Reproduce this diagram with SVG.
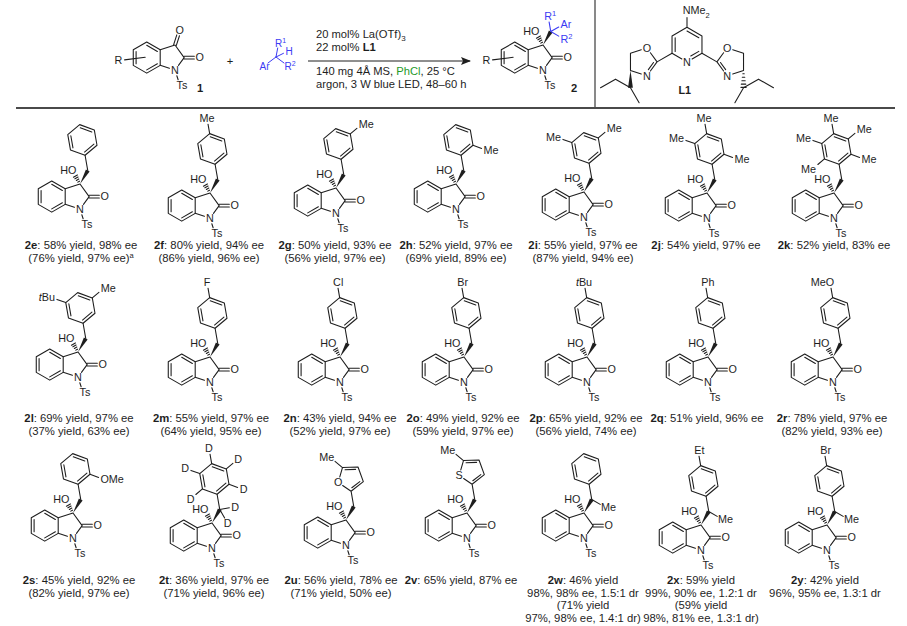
<svg xmlns="http://www.w3.org/2000/svg" width="907" height="626" viewBox="0 0 907 626">
<style>
.b{fill:none;stroke:#1e1e1e;stroke-width:1;stroke-linecap:round;stroke-linejoin:round}
.bs{stroke:#3b3bf4}
.t{font-family:"Liberation Sans",Arial,sans-serif;font-size:10px;fill:#1e1e1e}
.m{text-anchor:middle}
.e{text-anchor:end}
.bl{fill:#3b3bf4}
.cap{font-family:"Liberation Sans",Arial,sans-serif;font-size:11.3px;fill:#1e1e1e;text-anchor:middle}
.cond{font-family:"Liberation Sans",Arial,sans-serif;font-size:11.2px;fill:#1e1e1e}
.k{font-weight:bold}
.sep{stroke:#4a4a4a;fill:none}
</style>
<defs>
<g id="ring"><path class="b" d="M0,-14.4L12.47,-7.2L12.47,7.2L0,14.4L-12.47,7.2L-12.47,-7.2Z M0,-11.38L9.85,-5.69 M9.85,5.69L0,11.38 M-9.85,5.69L-9.85,-5.69"/></g>
<g id="base">
<use href="#ring" transform="translate(-26.17,11.65)"/>
<path class="b" d="M-13.7,4.45L0,0L8.47,11.65L3.23,18.85M-13.7,18.85L-5.23,21.6M1.7,28.5L2.9,32.2M8.6,10.35H17.9M8.6,12.95H17.9"/>
<text class="t m" x="0" y="26.9">N</text>
<text class="t m" x="22.87" y="15.25">O</text>
<text class="t" x="1.4" y="40.6">Ts</text>
</g>
<g id="core">
<use href="#base"/>
<path class="b" d="M-0.47,-2.62L-2.03,-1.72M-1.12,-4.55L-3.38,-3.25M-1.78,-6.48L-4.72,-4.78M-2.43,-8.41L-6.07,-6.31"/>
<polygon points="0,0 5.47,-13.47 8.93,-11.47" fill="#1e1e1e"/>
<text class="t e" x="-3.3" y="-8.87">HO</text>
</g>
<g id="bz"><path class="b" d="M7.2,-12.47L4.7,-26.62"/><use href="#ring" transform="translate(2.2,-40.8) rotate(-10)"/></g>
<g id="het"><path class="b" d="M7.2,-12.47L4.7,-26.65L16.05,-35.51L11.12,-49.05L-3.27,-48.54L-5.75,-39.89M-3.1,-31.9L4.7,-26.65M5.4,-29.85L12.8,-35.6M8.9,-46.9L-0.9,-46.55M-3.27,-48.54L-10.16,-54.33"/><text class="t e" x="-10.8" y="-54.2">Me</text></g>
<path id="pb" class="b" d="M-0.3,-54.98L-1.84,-63.7"/>
<path id="mr" class="b" d="M13.23,-50.06L19.36,-55.2"/>
<path id="orr" class="b" d="M15.73,-35.87L23.72,-32.96"/>
<path id="ml" class="b" d="M-11.33,-45.73L-19.5,-48.7"/>
<path id="ol" class="b" d="M-8.83,-31.54L-14.96,-26.4"/>
<g id="chme"><path class="b" d="M7.2,-12.47L14.99,-7.97"/><text class="t" x="15.8" y="-1.67">Me</text></g>
<marker id="ah" viewBox="0 0 10 8" refX="9" refY="4" markerWidth="10" markerHeight="8" markerUnits="userSpaceOnUse" orient="auto"><path d="M0,0L10,4L0,8L2,4Z" fill="#1e1e1e"/></marker>
</defs>
<rect width="907" height="626" fill="#fff"/>

<!-- frame lines -->
<path class="sep" stroke-width="1.3" d="M595,0V108"/>
<path class="sep" stroke-width="2" d="M16,108H895"/>

<!-- isatin 1 -->
<g id="n1" transform="translate(175,45) scale(1.08)">
<use href="#base"/>
<path class="b" d="M1.24,0.4L4.14,-8.54M-1.24,-0.4L1.66,-9.34M-46.7,13.8L-27.6,11.4"/>
<text class="t m" x="4.45" y="-10.1">O</text>
<text class="t m" x="-52.4" y="17.9">R</text>
</g>
<text id="lab1" class="cond k" x="197" y="92">1</text>
<text id="plus" class="cond m" x="230" y="65" font-size="12">+</text>

<!-- reagent -->
<g id="reagent">
<path class="b bs" d="M276,57L277.7,48M276,57L283.5,53.3M276,57L268,63M276,57L284,63"/>
<text class="t bl" x="275" y="46.5">R<tspan dy="-4" font-size="7">1</tspan></text>
<text class="t bl m" x="289" y="55">H</text>
<text class="t bl e" x="269.5" y="70">Ar</text>
<text class="t bl" x="284.5" y="70">R<tspan dy="-4" font-size="7">2</tspan></text>
</g>

<!-- connectors -->
<g id="connectors">
<line x1="308" y1="61" x2="470" y2="61" stroke="#1e1e1e" stroke-width="1" marker-end="url(#ah)"/>
</g>
<g id="conditions">
<text class="cond" x="316" y="38">20 mol% La(OTf)<tspan dy="3" font-size="8">3</tspan></text>
<text class="cond" x="316" y="51">22 mol% <tspan class="k">L1</tspan></text>
<text class="cond" x="316" y="75">140 mg 4Å MS, <tspan fill="#1f9a2a">PhCl</tspan>, 25 °C</text>
<text class="cond" x="316" y="88">argon, 3 W blue LED, 48–60 h</text>
</g>

<!-- product 2 -->
<g id="n2" transform="translate(543,45) scale(1.08)">
<use href="#core"/>
<path class="b" d="M-46.7,13.8L-27.6,11.4"/>
<text class="t m" x="-52.4" y="17.9">R</text>
<path class="b bs" d="M7.2,-12.47L5.64,-21.33M7.2,-12.47L14.56,-16.72M7.2,-12.47L14.56,-8.22"/>
<text class="t bl" x="1.1" y="-23.05">R<tspan dy="-4" font-size="7">1</tspan></text>
<text class="t bl" x="16.3" y="-16.07">Ar</text>
<text class="t bl" x="16.1" y="-1.67">R<tspan dy="-4" font-size="7">2</tspan></text>
</g>
<text id="lab2" class="cond k" x="571" y="92">2</text>

<!-- ligand L1 -->
<g id="L1" transform="translate(687,50) scale(1.08) translate(-687,-50)">
<path class="b" d="M682.24,58.25L673.14,53L673.14,37L687,29L700.86,37L700.86,53L691.76,58.25M676.05,38.7V51.3M687,32.4L697.95,38.7M697.95,51.3L690.5,55.6M687,29V20"/>
<text class="t" x="683" y="17">NMe<tspan dy="3" font-size="7">2</tspan></text>
<text class="t m" x="687" y="64.6">N</text>
<path class="b" d="M673.14,53L659.28,61L653.11,52.51M644.65,49.76L634.66,53L634.66,69L644.65,72.24M653.11,69.49L659.28,61M656,61.6L651.2,68.2"/>
<text class="t m" x="649.88" y="51.7">O</text>
<text class="t m" x="649.88" y="77.5">N</text>
<path class="b" d="M700.86,53L714.72,61L720.89,52.51M729.35,49.76L739.34,53L739.34,69L729.35,72.24M720.89,69.49L714.72,61M718,61.6L722.8,68.2"/>
<text class="t m" x="724.12" y="51.7">O</text>
<text class="t m" x="724.12" y="77.5">N</text>
<polygon points="634.66,69 632.4,85 636.9,85" fill="#1e1e1e"/>
<path class="b" d="M634.66,85L620.8,77L606.94,85M634.66,85L642.66,98.86"/>
<path class="b" d="M738.7,72H740M738.2,75.2H740.5M737.8,78.4H740.9M737.3,81.6H741.4M736.9,84.6H741.8"/>
<path class="b" d="M739.34,85L753.2,77L767.06,85M739.34,85L731.34,98.86"/>
<text class="t k m" x="685" y="91" font-size="10.4">L1</text>
</g>

<!-- row 1 -->
<g id="n2e" transform="translate(80,184) scale(1.08)"><use href="#core"/><use href="#bz"/></g>
<g id="n2f" transform="translate(210,193) scale(1.08)"><use href="#core"/><use href="#bz"/><use href="#pb"/><text class="t m" x="-2.8" y="-65.56">Me</text></g>
<g id="n2g" transform="translate(336,188) scale(1.08)"><use href="#core"/><use href="#bz"/><use href="#mr"/><text class="t" x="21" y="-55.72">Me</text></g>
<g id="n2h" transform="translate(456,184) scale(1.08)"><use href="#core"/><use href="#bz"/><use href="#orr"/><text class="t" x="25.5" y="-27.35">Me</text></g>
<g id="n2i" transform="translate(584,192) scale(1.08)"><use href="#core"/><use href="#bz"/><use href="#mr"/><use href="#ml"/><text class="t" x="21" y="-55.72">Me</text><text class="t e" x="-21.3" y="-47.05">Me</text></g>
<g id="n2j" transform="translate(707,193) scale(1.08)"><use href="#core"/><use href="#bz"/><use href="#pb"/><use href="#ml"/><use href="#orr"/><text class="t m" x="-2.8" y="-65.56">Me</text><text class="t e" x="-21.3" y="-47.05">Me</text><text class="t" x="25.5" y="-27.35">Me</text></g>
<g id="n2k" transform="translate(834,193) scale(1.08)"><use href="#core"/><use href="#bz"/><use href="#pb"/><use href="#mr"/><use href="#ml"/><use href="#orr"/><use href="#ol"/><text class="t m" x="-2.8" y="-65.56">Me</text><text class="t" x="21" y="-55.72">Me</text><text class="t e" x="-21.3" y="-47.05">Me</text><text class="t" x="25.5" y="-27.35">Me</text><text class="t e" x="-16.6" y="-18.68">Me</text></g>

<g id="cap1">
<text class="cap" x="81" y="249"><tspan class="k">2e</tspan>: 58% yield, 98% ee</text>
<text class="cap" x="81" y="262">(76% yield, 97% ee)<tspan dy="-4" font-size="7.5">a</tspan></text>
<text class="cap" x="209" y="249"><tspan class="k">2f</tspan>: 80% yield, 94% ee</text>
<text class="cap" x="209" y="262">(86% yield, 96% ee)</text>
<text class="cap" x="335" y="249"><tspan class="k">2g</tspan>: 50% yield, 93% ee</text>
<text class="cap" x="335" y="262">(56% yield, 97% ee)</text>
<text class="cap" x="456" y="249"><tspan class="k">2h</tspan>: 52% yield, 97% ee</text>
<text class="cap" x="456" y="262">(69% yield, 89% ee)</text>
<text class="cap" x="583" y="249"><tspan class="k">2i</tspan>: 55% yield, 97% ee</text>
<text class="cap" x="583" y="262">(87% yield, 94% ee)</text>
<text class="cap" x="706" y="249"><tspan class="k">2j</tspan>: 54% yield, 97% ee</text>
<text class="cap" x="834" y="249"><tspan class="k">2k</tspan>: 52% yield, 83% ee</text>
</g>

<!-- row 2 -->
<g id="n2l" transform="translate(78,352) scale(1.08)"><use href="#core"/><use href="#bz"/><use href="#mr"/><use href="#ml"/><text class="t" x="21" y="-55.72">Me</text><text class="t e" x="-21.3" y="-47.05"><tspan font-style="italic">t</tspan>Bu</text></g>
<g id="n2m" transform="translate(210,357) scale(1.08)"><use href="#core"/><use href="#bz"/><use href="#pb"/><text class="t m" x="-2.8" y="-65.56">F</text></g>
<g id="n2n" transform="translate(340,357) scale(1.08)"><use href="#core"/><use href="#bz"/><use href="#pb"/><text class="t" x="-6.4" y="-65.56">Cl</text></g>
<g id="n2o" transform="translate(464,357) scale(1.08)"><use href="#core"/><use href="#bz"/><use href="#pb"/><text class="t" x="-6.15" y="-65.56">Br</text></g>
<g id="n2p" transform="translate(587,357) scale(1.08)"><use href="#core"/><use href="#bz"/><use href="#pb"/><text class="t m" x="-2.8" y="-65.56"><tspan font-style="italic">t</tspan>Bu</text></g>
<g id="n2q" transform="translate(708,357) scale(1.08)"><use href="#core"/><use href="#bz"/><use href="#pb"/><text class="t" x="-6.15" y="-65.56">Ph</text></g>
<g id="n2r" transform="translate(833,357) scale(1.08)"><use href="#core"/><use href="#bz"/><use href="#pb"/><text class="t e" x="1.1" y="-65.56">MeO</text></g>

<g id="cap2">
<text class="cap" x="79" y="422"><tspan class="k">2l</tspan>: 69% yield, 97% ee</text>
<text class="cap" x="79" y="435">(37% yield, 63% ee)</text>
<text class="cap" x="211" y="422"><tspan class="k">2m</tspan>: 55% yield, 97% ee</text>
<text class="cap" x="211" y="435">(64% yield, 95% ee)</text>
<text class="cap" x="340" y="422"><tspan class="k">2n</tspan>: 43% yield, 94% ee</text>
<text class="cap" x="340" y="435">(52% yield, 97% ee)</text>
<text class="cap" x="463" y="422"><tspan class="k">2o</tspan>: 49% yield, 92% ee</text>
<text class="cap" x="463" y="435">(59% yield, 97% ee)</text>
<text class="cap" x="586" y="422"><tspan class="k">2p</tspan>: 65% yield, 92% ee</text>
<text class="cap" x="586" y="435">(56% yield, 74% ee)</text>
<text class="cap" x="707" y="422"><tspan class="k">2q</tspan>: 51% yield, 96% ee</text>
<text class="cap" x="832" y="422"><tspan class="k">2r</tspan>: 78% yield, 97% ee</text>
<text class="cap" x="832" y="435">(82% yield, 93% ee)</text>
</g>

<!-- row 3 -->
<g id="n2s" transform="translate(73,513) scale(1.08)"><use href="#core"/><use href="#bz"/><use href="#orr"/><text class="t" x="25.36" y="-27.35">OMe</text></g>
<g id="n2t" transform="translate(212,523) scale(1.08)"><use href="#core"/><use href="#bz"/><use href="#pb"/><use href="#mr"/><use href="#ml"/><use href="#orr"/><use href="#ol"/>
<path class="b" d="M7.2,-12.47L16.07,-14.04M7.2,-12.47L11.7,-4.68"/>
<text class="t m" x="-2.8" y="-65.56">D</text><text class="t m" x="24.26" y="-55.72">D</text><text class="t m" x="29.26" y="-27.35">D</text><text class="t m" x="-24.86" y="-47.05">D</text><text class="t m" x="-19.86" y="-18.68">D</text><text class="t m" x="21.38" y="-11.37">D</text><text class="t m" x="14.4" y="3.6">D</text></g>
<g id="n2u" transform="translate(346,520) scale(1.08)"><use href="#core"/><use href="#het"/><text class="t m" x="-7.24" y="-31.1">O</text></g>
<g id="n2v" transform="translate(467,513) scale(1.08)"><use href="#core"/><use href="#het"/><text class="t m" x="-7.24" y="-31.1">S</text></g>
<g id="n2w" transform="translate(584,513) scale(1.08)"><use href="#core"/><use href="#bz"/><use href="#chme"/></g>
<g id="n2x" transform="translate(701,525) scale(1.08)"><use href="#core"/><use href="#bz"/><use href="#chme"/><use href="#pb"/><text class="t" x="-6.15" y="-65.56">Et</text></g>
<g id="n2y" transform="translate(827,525) scale(1.08)"><use href="#core"/><use href="#bz"/><use href="#chme"/><use href="#pb"/><text class="t" x="-6.15" y="-65.56">Br</text></g>

<g id="cap3">
<text class="cap" x="79" y="584"><tspan class="k">2s</tspan>: 45% yield, 92% ee</text>
<text class="cap" x="79" y="596.5">(82% yield, 97% ee)</text>
<text class="cap" x="214" y="584"><tspan class="k">2t</tspan>: 36% yield, 97% ee</text>
<text class="cap" x="214" y="596.5">(71% yield, 96% ee)</text>
<text class="cap" x="341" y="584"><tspan class="k">2u</tspan>: 56% yield, 78% ee</text>
<text class="cap" x="341" y="596.5">(71% yield, 50% ee)</text>
<text class="cap" x="461" y="584"><tspan class="k">2v</tspan>: 65% yield, 87% ee</text>
<text class="cap" x="583" y="584"><tspan class="k">2w</tspan>: 46% yield</text>
<text class="cap" x="583" y="596.5">98%, 98% ee, 1.5:1 dr</text>
<text class="cap" x="583" y="609">(71% yield</text>
<text class="cap" x="583" y="621.5">97%, 98% ee, 1.4:1 dr)</text>
<text class="cap" x="701" y="584"><tspan class="k">2x</tspan>: 59% yield</text>
<text class="cap" x="701" y="596.5">99%, 90% ee, 1.2:1 dr</text>
<text class="cap" x="701" y="609">(59% yield</text>
<text class="cap" x="701" y="621.5">98%, 81% ee, 1.3:1 dr)</text>
<text class="cap" x="825" y="584"><tspan class="k">2y</tspan>: 42% yield</text>
<text class="cap" x="825" y="596.5">96%, 95% ee, 1.3:1 dr</text>
</g>
</svg>
